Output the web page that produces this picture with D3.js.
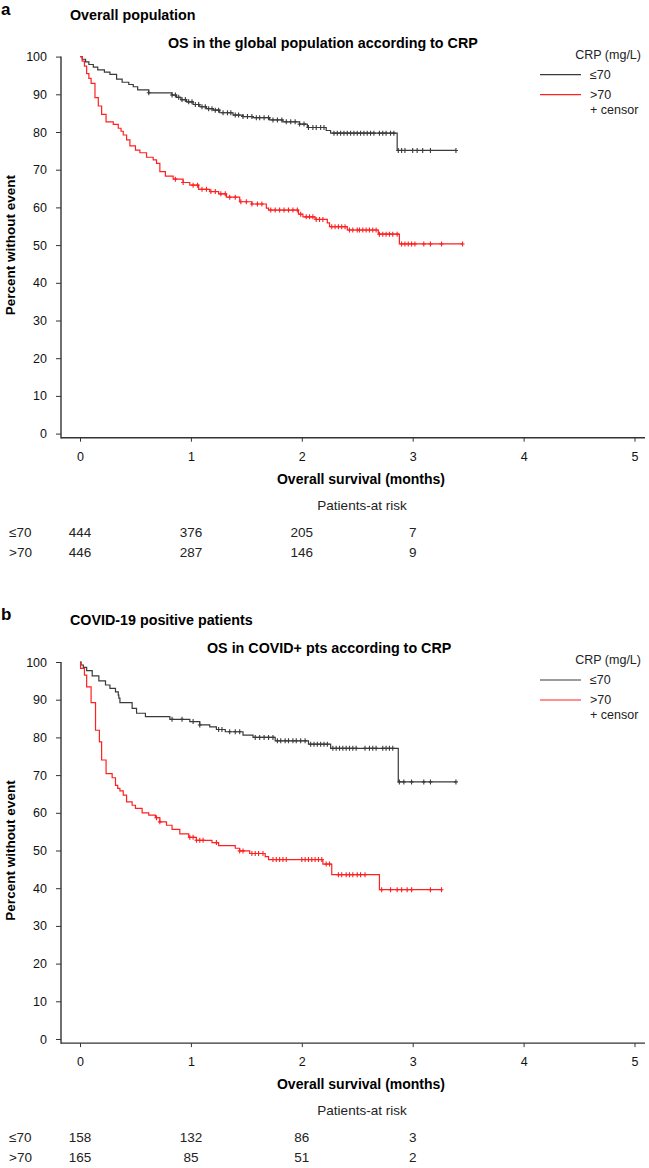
<!DOCTYPE html>
<html><head><meta charset="utf-8">
<script src="https://cdn.jsdelivr.net/npm/d3@7"></script>
<style>
html,body{margin:0;padding:0;background:#fff;}
svg{display:block;font-family:"Liberation Sans",Arial,Helvetica,sans-serif;}
</style></head>
<body><svg id="c" width="649" height="1168"></svg>
<script>
// ---------- DATA ----------
const xTicks = [0, 1, 2, 3, 4, 5];
const yTicks = [0, 10, 20, 30, 40, 50, 60, 70, 80, 90, 100];
const groups = ["≤70", ">70"];

// Panel a: overall population
const aLowT = [0,0.02,0.05,0.08,0.12,0.16,0.22,0.27,0.33,0.38,0.44,0.48,0.52,0.62,0.83,0.87,0.91,0.96,1.02,1.08,1.14,1.20,1.26,1.38,1.47,1.56,1.71,1.83,1.98,2.05,2.22,2.26,2.86,3.39];
const aLowV = [100,99.3,98.6,97.9,97.2,96.5,95.9,95.3,94.0,93.2,92.6,92.0,91.2,90.4,89.8,89.2,88.6,88.0,87.3,86.7,86.2,85.8,85.1,84.5,84.1,83.8,83.2,82.7,82.1,81.2,80.4,79.7,75.1,75.1];
const aLowCens = [0.62,0.83,0.86,0.89,0.92,0.95,0.98,1.01,1.04,1.07,1.10,1.13,1.16,1.19,1.22,1.25,1.29,1.33,1.36,1.40,1.43,1.47,1.51,1.55,1.59,1.62,1.66,1.70,1.74,1.78,1.82,1.86,1.90,1.94,1.98,2.02,2.06,2.10,2.13,2.17,2.20,2.29,2.32,2.35,2.38,2.41,2.44,2.47,2.50,2.53,2.56,2.59,2.62,2.65,2.70,2.73,2.76,2.80,2.83,2.87,2.90,2.93,3.00,3.04,3.09,3.16,3.39];
const aHighT = [0,0.02,0.04,0.06,0.08,0.10,0.135,0.165,0.195,0.235,0.30,0.345,0.37,0.39,0.42,0.45,0.50,0.54,0.60,0.66,0.69,0.72,0.77,0.84,0.93,0.99,1.07,1.17,1.25,1.32,1.44,1.55,1.68,1.70,1.97,2.01,2.12,2.23,2.25,2.41,2.69,2.88,3.45];
const aHighV = [100,98.8,97.5,95.5,94.2,92.9,89.1,86.9,84.7,82.7,82.0,81.0,80.2,79.2,77.9,76.3,75.2,74.5,73.3,72.6,71.7,69.5,68.3,67.5,66.6,65.9,64.8,64.2,63.6,62.7,61.5,60.9,59.8,59.3,58.2,57.5,56.8,55.9,54.9,54.0,52.9,50.3,50.3];
const aHighCens = [0.86,0.93,1.02,1.06,1.10,1.14,1.18,1.22,1.27,1.31,1.35,1.40,1.45,1.50,1.55,1.60,1.64,1.72,1.76,1.80,1.84,1.88,1.92,1.96,1.99,2.04,2.07,2.10,2.13,2.16,2.19,2.27,2.30,2.33,2.36,2.39,2.43,2.46,2.50,2.52,2.55,2.58,2.61,2.64,2.67,2.70,2.73,2.76,2.79,2.82,2.86,2.90,2.93,2.96,2.99,3.02,3.10,3.16,3.26,3.45];
const aRiskLow = [444, 376, 205, 7];
const aRiskHigh = [446, 287, 146, 9];

// Panel b: COVID-19 positive
const bLowT = [0,0.01,0.03,0.06,0.11,0.17,0.23,0.27,0.32,0.345,0.35,0.36,0.47,0.51,0.59,0.81,0.99,1.08,1.17,1.23,1.31,1.47,1.56,1.76,2.06,2.26,2.87,3.39];
const bLowV = [100,99.2,98.6,97.7,96.3,95.0,93.9,93.0,92.1,91.2,90.4,89.2,87.7,86.4,85.5,84.8,84.2,83.3,82.8,82.1,81.5,80.6,80.0,79.1,78.2,77.1,68.2,68.2];
const bLowCens = [0.83,0.92,1.02,1.08,1.25,1.28,1.35,1.40,1.44,1.58,1.62,1.66,1.70,1.74,1.78,1.81,1.85,1.88,1.92,1.95,1.99,2.03,2.08,2.11,2.14,2.17,2.20,2.23,2.28,2.31,2.34,2.37,2.40,2.43,2.46,2.49,2.57,2.61,2.64,2.67,2.73,2.76,2.79,2.82,2.88,2.92,2.99,3.10,3.16,3.39];
const bHighT = [0,0.005,0.04,0.06,0.10,0.14,0.175,0.195,0.235,0.29,0.32,0.34,0.36,0.39,0.42,0.47,0.50,0.56,0.62,0.68,0.72,0.78,0.83,0.90,0.98,1.05,1.19,1.25,1.40,1.44,1.53,1.67,1.70,2.19,2.27,2.70,3.26];
const bHighV = [100,98.3,96.5,93.4,89.2,81.9,78.8,74.0,70.4,69.3,67.3,66.5,65.8,64.7,62.9,62.0,61.2,60.0,59.4,58.7,57.6,56.7,55.6,54.4,53.5,52.7,52.1,51.3,50.6,49.9,49.2,48.4,47.6,46.4,43.6,39.6,39.6];
const bHighCens = [0.69,0.72,0.99,1.02,1.05,1.08,1.11,1.23,1.44,1.47,1.55,1.58,1.61,1.65,1.74,1.77,1.80,1.83,1.86,2.00,2.03,2.06,2.09,2.12,2.15,2.18,2.22,2.25,2.33,2.36,2.40,2.43,2.46,2.50,2.53,2.57,2.72,2.80,2.86,2.90,2.95,2.99,3.16,3.26];
const bRiskLow = [158, 132, 86, 3];
const bRiskHigh = [165, 85, 51, 2];

// ---------- DRAW ----------
const svg = d3.select("#c");
const lowColor = "#3a3a3a", highColor = "#ff2020";

const panels = [
  {letter:"a", sub:"Overall population", title:"OS in the global population according to CRP", titleX:168, off:0,
   curves:[{t:aLowT,v:aLowV,c:aLowCens,col:lowColor},{t:aHighT,v:aHighV,c:aHighCens,col:highColor}],
   risk:[aRiskLow,aRiskHigh]},
  {letter:"b", sub:"COVID-19 positive patients", title:"OS in COVID+ pts according to CRP", titleX:207, off:605.4,
   curves:[{t:bLowT,v:bLowV,c:bLowCens,col:lowColor},{t:bHighT,v:bHighV,c:bHighCens,col:highColor}],
   risk:[bRiskLow,bRiskHigh]}
];

panels.forEach(p => {
  const g = svg.append("g").attr("transform", `translate(0,${p.off})`);
  const x = d3.scaleLinear().domain([0,5]).range([80, 634.5]);
  const y = d3.scaleLinear().domain([0,100]).range([433.6, 56.6]);
  const axisY = 437.7, axisX = 61;

  g.append("text").attr("x",1).attr("y",15).attr("font-size",17).attr("font-weight","bold").text(p.letter);
  g.append("text").attr("x",70).attr("y",20).attr("font-size",14.3).attr("font-weight","bold").text(p.sub);
  g.append("text").attr("x",p.titleX).attr("y",47.5).attr("font-size",14.3).attr("font-weight","bold").text(p.title);

  // axes
  const ya = g.append("g").attr("transform",`translate(${axisX},0)`)
    .call(d3.axisLeft(y).tickValues(yTicks).tickSize(5).tickPadding(9));
  ya.select(".domain").remove();
  ya.selectAll("line").attr("stroke","#333").attr("stroke-width",1);
  ya.selectAll("text").attr("font-size",12.5).attr("fill","#111").attr("font-family","Liberation Sans, Arial");
  g.append("line").attr("x1",axisX).attr("x2",axisX).attr("y1",y(100)).attr("y2",axisY+0.7).attr("stroke","#333").attr("stroke-width",1.4);

  const xa = g.append("g").attr("transform",`translate(0,${axisY})`)
    .call(d3.axisBottom(x).tickValues(xTicks).tickFormat(d3.format("d")).tickSize(4).tickPadding(10));
  xa.select(".domain").remove();
  xa.selectAll("line").attr("stroke","#333").attr("stroke-width",1);
  xa.selectAll("text").attr("font-size",12.5).attr("fill","#111").attr("font-family","Liberation Sans, Arial");
  g.append("line").attr("x1",axisX).attr("x2",645).attr("y1",axisY).attr("y2",axisY).attr("stroke","#333").attr("stroke-width",1.4);

  g.append("text").attr("x",361).attr("y",484).attr("text-anchor","middle").attr("font-size",14).attr("font-weight","bold").text("Overall survival (months)");
  g.append("text").attr("transform",`translate(14.5,${(y(0)+y(100))/2}) rotate(-90)`).attr("text-anchor","middle")
    .attr("font-size",13.5).attr("font-weight","bold").text("Percent without event");

  // curves
  const line = d3.line().x(d=>x(d[0])).y(d=>y(d[1])).curve(d3.curveStepAfter);
  p.curves.forEach(cv => {
    const pts = cv.t.map((t,i)=>[t, cv.v[i]]);
    g.append("path").attr("d", line(pts)).attr("fill","none").attr("stroke",cv.col).attr("stroke-width",1.2);
    const valAt = t => { let v = cv.v[0]; for (let i=0;i<cv.t.length;i++){ if (cv.t[i] <= t + 1e-9) v = cv.v[i]; } return v; };
    g.append("g").selectAll("path").data(cv.c).join("path")
      .attr("d", t => { const cx = x(t), cy = y(valAt(t)); return `M${cx},${cy-2.5}V${cy+2.5}M${cx-2},${cy}H${cx+2}`; })
      .attr("stroke", cv.col).attr("stroke-width",1.1).attr("fill","none");
  });

  // legend
  const ly = y(100);
  g.append("text").attr("x",641).attr("y",ly+2).attr("text-anchor","end").attr("font-size",12.5).attr("fill","#222").text("CRP (mg/L)");
  [lowColor, highColor].forEach((col,i) => {
    const yy = ly + 18 + i*20;
    g.append("line").attr("x1",540).attr("x2",581).attr("y1",yy).attr("y2",yy).attr("stroke",col).attr("stroke-width",1.2);
    g.append("text").attr("x",590).attr("y",yy+4.5).attr("font-size",12.5).attr("fill","#222").text(groups[i]);
  });
  g.append("text").attr("x",590).attr("y",ly+57).attr("font-size",12.5).attr("fill","#222").text("+ censor");

  // risk table
  g.append("text").attr("x",362).attr("y",510).attr("text-anchor","middle").attr("font-size",13.5).attr("fill","#222").text("Patients-at risk");
  p.risk.forEach((row,i) => {
    const yy = 536.5 + i*20.6;
    g.append("text").attr("x",9).attr("y",yy).attr("font-size",13.5).attr("fill","#222").text(groups[i]);
    g.append("g").selectAll("text").data(row).join("text")
      .attr("x",(d,j)=>x(xTicks[j])).attr("y",yy).attr("text-anchor","middle").attr("font-size",13.5).attr("fill","#222").text(d=>d);
  });
});
</script></body></html>
